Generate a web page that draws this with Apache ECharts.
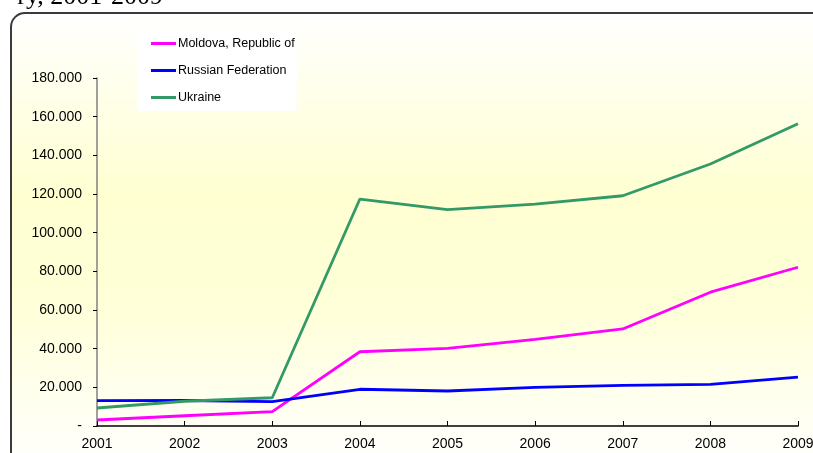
<!DOCTYPE html>
<html>
<head>
<meta charset="utf-8">
<script src="https://cdn.jsdelivr.net/npm/echarts@6/dist/echarts.min.js"></script>
<style>
html,body{margin:0;padding:0;background:#fff;}
#c{width:813px;height:453px;}
</style>
</head>
<body>
<div id="c"></div>
<script>
var years = ['2001','2002','2003','2004','2005','2006','2007','2008','2009'];
var moldova = [3100, 5300, 7400, 38400, 40200, 44800, 50200, 69200, 82100];
var russia = [13100, 13200, 12600, 19000, 18100, 20000, 21000, 21500, 25300];
var ukraine = [9300, 12800, 14600, 117400, 111900, 114800, 119100, 135500, 156300];
var seriesNames = ['Moldova, Republic of', 'Russian Federation', 'Ukraine'];
var titleText = 'ry, 2001-2009';

function fmt(v){
  if (v === 0) return '-';
  var s = String(Math.round(v));
  return s.replace(/\B(?=(\d{3})+(?!\d))/g, '.');
}

var chart = echarts.init(document.getElementById('c'));
var lineStyle = function(c){ return {color:c, width:2.8}; };
chart.setOption({
  animation:false,
  backgroundColor:'#fff',
  graphic:[
    {type:'rect', z:-10, shape:{x:11, y:13, width:840, height:480, r:14},
     style:{stroke:'#3a3a3a', lineWidth:2,
       fill:new echarts.graphic.LinearGradient(0,0,0,1,[
         {offset:0, color:'#ffffff'},
         {offset:0.38, color:'#ffffd2'},
         {offset:0.6, color:'#ffffd8'},
         {offset:0.9, color:'#fffffa'},
         {offset:1, color:'#ffffff'}])}},
    {type:'text', z:10,
     style:{text:titleText, x:163, y:10, align:'right', verticalAlign:'bottom',
            font:'26px "Liberation Serif", serif', fill:'#000'}}
  ],
  legend:{
    orient:'vertical', left:137, top:29,
    backgroundColor:'#fff', padding:[7,2,6,14],
    itemWidth:25, itemHeight:3, itemGap:12,
    icon:'rect',
    textStyle:{fontFamily:'Liberation Sans, Arial', fontSize:12.5, color:'#000', padding:[0,0,0,-3], lineHeight:15},
    data:seriesNames
  },
  grid:{left:97, right:15, top:78, bottom:27, containLabel:false, outerBoundsMode:'none'},
  xAxis:{
    type:'category', data:years, boundaryGap:false,
    axisLine:{lineStyle:{color:'#000', width:1.5}},
    axisTick:{inside:true, length:5, lineStyle:{color:'#000'}},
    axisLabel:{fontFamily:'Liberation Sans, Arial', fontSize:14, color:'#000', margin:11}
  },
  yAxis:{
    type:'value', min:0, max:180000, interval:20000,
    axisLine:{show:true, lineStyle:{color:'#808080', width:1.5}},
    axisTick:{show:true, length:4, lineStyle:{color:'#000'}},
    splitLine:{show:false},
    axisLabel:{fontFamily:'Liberation Sans, Arial', fontSize:14, color:'#000', margin:15, formatter:fmt}
  },
  series:[
    {name:seriesNames[0], type:'line', data:moldova, symbol:'none', color:'#ff00ff', lineStyle:lineStyle('#ff00ff')},
    {name:seriesNames[1], type:'line', data:russia, symbol:'none', color:'#0000ff', lineStyle:lineStyle('#0000ff')},
    {name:seriesNames[2], type:'line', data:ukraine, symbol:'none', color:'#339966', lineStyle:lineStyle('#339966')}
  ]
});
</script>
</body>
</html>
